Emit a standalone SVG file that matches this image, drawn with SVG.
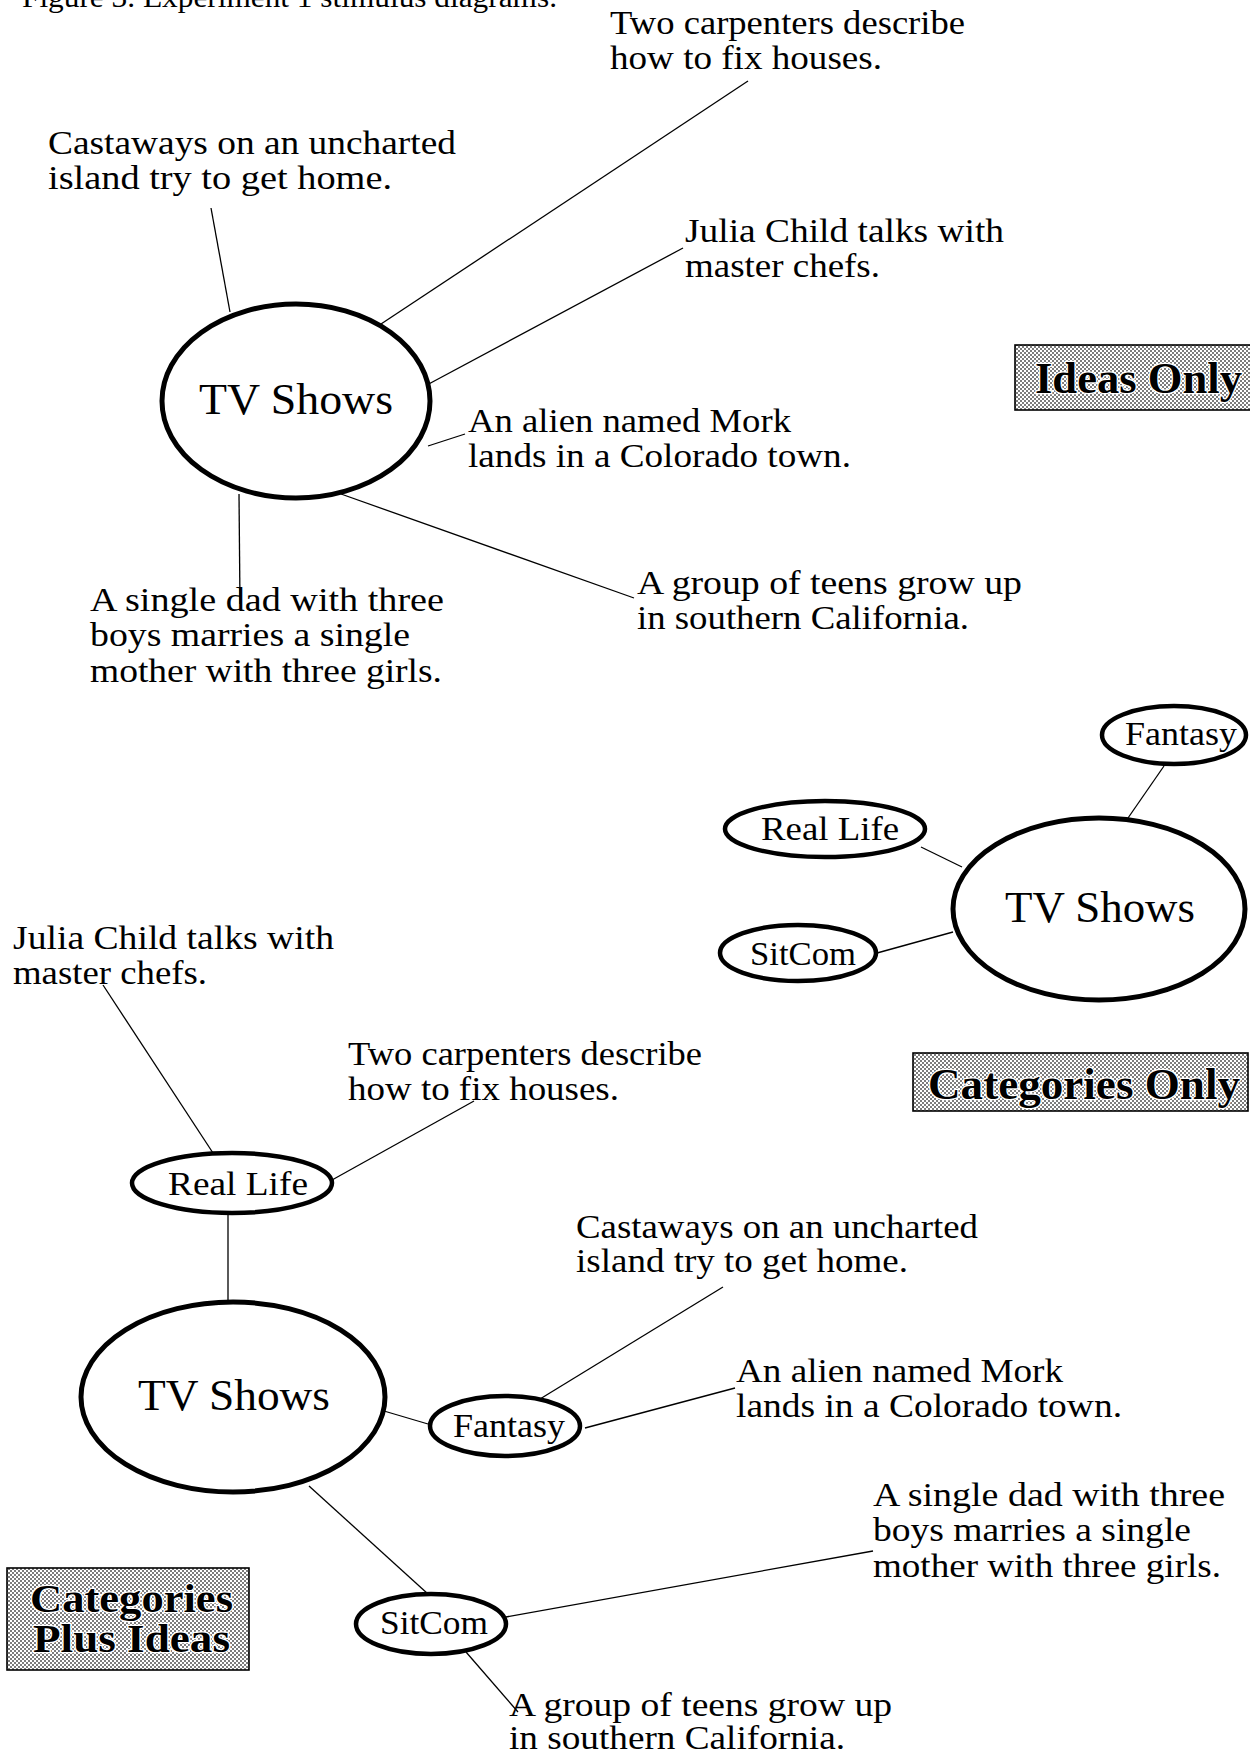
<svg xmlns="http://www.w3.org/2000/svg" width="1250" height="1755" viewBox="0 0 1250 1755">
  <style>
    text { font-family: "Liberation Serif", "Times New Roman", serif; fill: #000; }
    .t { font-size: 33px; }
    .hub { font-size: 44px; }
    .cat { font-size: 34px; }
    .tag { font-size: 44px; font-weight: bold; stroke: #fff; stroke-width: 2.5px; paint-order: stroke; }
    .tag2 { font-size: 39px; }
    .big { fill: #fff; stroke: #000; stroke-width: 5; }
    .small { fill: #fff; stroke: #000; stroke-width: 4.5; }
    .box { fill: url(#halftone); stroke: #000; stroke-width: 1.6; }
    #connectors line { stroke: #000; stroke-width: 1.3; }
  </style>
  <defs>
    <pattern id="halftone" width="4" height="4" patternUnits="userSpaceOnUse">
      <rect width="4" height="4" fill="#fff"/>
      <rect x="0.2" y="0.2" width="1.6" height="1.6" fill="#333"/>
      <rect x="2.2" y="2.2" width="1.6" height="1.6" fill="#333"/>
    </pattern>
  </defs>
  <rect width="1250" height="1755" fill="#fff"/>

  <text id="caption" x="22" y="7" font-size="30" textLength="535" lengthAdjust="spacingAndGlyphs">Figure 3. Experiment 1 stimulus diagrams.</text>

  <!-- connector lines -->
  <g id="connectors">
    <!-- ideas only -->
    <line x1="211" y1="208" x2="230" y2="312"/>
    <line x1="748" y1="81" x2="381" y2="324"/>
    <line x1="683" y1="248" x2="425" y2="386"/>
    <line x1="465" y1="434" x2="428" y2="446"/>
    <line x1="341" y1="494" x2="634" y2="598"/>
    <line x1="239" y1="494" x2="240" y2="604"/>
    <!-- categories only -->
    <line x1="1164" y1="766" x2="1128" y2="818"/>
    <line x1="921" y1="847" x2="962" y2="867"/>
    <line x1="877" y1="953" x2="953" y2="932"/>
    <!-- categories plus ideas -->
    <line x1="103" y1="985" x2="213" y2="1153"/>
    <line x1="474" y1="1101" x2="332" y2="1180"/>
    <line x1="228" y1="1213" x2="228" y2="1301"/>
    <line x1="384" y1="1411" x2="428" y2="1424"/>
    <line x1="723" y1="1287" x2="540" y2="1399"/>
    <line x1="735" y1="1388" x2="585" y2="1428"/>
    <line x1="309" y1="1486" x2="428" y2="1594"/>
    <line x1="873" y1="1551" x2="506" y2="1617"/>
    <line x1="466" y1="1652" x2="518" y2="1712"/>
  </g>

  <!-- Ideas Only -->
  <g id="ideas-hub">
    <ellipse class="big" cx="296" cy="401" rx="134" ry="97"/>
    <text class="hub" x="199" y="414" textLength="194" lengthAdjust="spacingAndGlyphs">TV Shows</text>
  </g>
  <g id="ideas-carpenters" class="t">
    <text x="610" y="34" textLength="355" lengthAdjust="spacingAndGlyphs">Two carpenters describe</text>
    <text x="610" y="69" textLength="272" lengthAdjust="spacingAndGlyphs">how to fix houses.</text>
  </g>
  <g id="ideas-castaways" class="t">
    <text x="48" y="154" textLength="408" lengthAdjust="spacingAndGlyphs">Castaways on an uncharted</text>
    <text x="48" y="189" textLength="344" lengthAdjust="spacingAndGlyphs">island try to get home.</text>
  </g>
  <g id="ideas-julia" class="t">
    <text x="685" y="242" textLength="319" lengthAdjust="spacingAndGlyphs">Julia Child talks with</text>
    <text x="685" y="277" textLength="195" lengthAdjust="spacingAndGlyphs">master chefs.</text>
  </g>
  <g id="ideas-alien" class="t">
    <text x="468" y="432" textLength="323" lengthAdjust="spacingAndGlyphs">An alien named Mork</text>
    <text x="468" y="467" textLength="383" lengthAdjust="spacingAndGlyphs">lands in a Colorado town.</text>
  </g>
  <g id="ideas-teens" class="t">
    <text x="637" y="594" textLength="385" lengthAdjust="spacingAndGlyphs">A group of teens grow up</text>
    <text x="637" y="629" textLength="332" lengthAdjust="spacingAndGlyphs">in southern California.</text>
  </g>
  <g id="ideas-dad" class="t">
    <text x="90" y="611" textLength="354" lengthAdjust="spacingAndGlyphs">A single dad with three</text>
    <text x="90" y="646" textLength="320" lengthAdjust="spacingAndGlyphs">boys marries a single</text>
    <text x="90" y="682" textLength="352" lengthAdjust="spacingAndGlyphs">mother with three girls.</text>
  </g>
  <g id="tag-ideas">
    <rect class="box" x="1015" y="345" width="240" height="65"/>
    <text class="tag" x="1035" y="393" textLength="207" lengthAdjust="spacingAndGlyphs">Ideas Only</text>
  </g>

  <!-- Categories Only -->
  <g id="cats-hub">
    <ellipse class="big" cx="1099" cy="909" rx="146" ry="91"/>
    <text class="hub" x="1005" y="922" textLength="190" lengthAdjust="spacingAndGlyphs">TV Shows</text>
  </g>
  <g id="cats-fantasy">
    <ellipse class="small" cx="1174" cy="735" rx="72" ry="29"/>
    <text class="cat" x="1125" y="745" textLength="112" lengthAdjust="spacingAndGlyphs">Fantasy</text>
  </g>
  <g id="cats-reallife">
    <ellipse class="small" cx="825" cy="829" rx="100" ry="28"/>
    <text class="cat" x="761" y="840" textLength="138" lengthAdjust="spacingAndGlyphs">Real Life</text>
  </g>
  <g id="cats-sitcom">
    <ellipse class="small" cx="798" cy="953" rx="78" ry="28"/>
    <text class="cat" x="750" y="965" textLength="106" lengthAdjust="spacingAndGlyphs">SitCom</text>
  </g>
  <g id="tag-cats">
    <rect class="box" x="913" y="1053" width="335" height="58"/>
    <text class="tag" x="928" y="1099" textLength="312" lengthAdjust="spacingAndGlyphs">Categories Only</text>
  </g>

  <!-- Categories Plus Ideas -->
  <g id="plus-hub">
    <ellipse class="big" cx="233" cy="1397" rx="152" ry="95"/>
    <text class="hub" x="138" y="1410" textLength="192" lengthAdjust="spacingAndGlyphs">TV Shows</text>
  </g>
  <g id="plus-reallife">
    <ellipse class="small" cx="232" cy="1183" rx="100" ry="30"/>
    <text class="cat" x="168" y="1195" textLength="140" lengthAdjust="spacingAndGlyphs">Real Life</text>
  </g>
  <g id="plus-fantasy">
    <ellipse class="small" cx="505" cy="1426" rx="75" ry="30"/>
    <text class="cat" x="453" y="1437" textLength="112" lengthAdjust="spacingAndGlyphs">Fantasy</text>
  </g>
  <g id="plus-sitcom">
    <ellipse class="small" cx="431" cy="1624" rx="75" ry="30"/>
    <text class="cat" x="380" y="1634" textLength="108" lengthAdjust="spacingAndGlyphs">SitCom</text>
  </g>
  <g id="plus-julia" class="t">
    <text x="13" y="949" textLength="321" lengthAdjust="spacingAndGlyphs">Julia Child talks with</text>
    <text x="13" y="984" textLength="194" lengthAdjust="spacingAndGlyphs">master chefs.</text>
  </g>
  <g id="plus-carpenters" class="t">
    <text x="348" y="1065" textLength="354" lengthAdjust="spacingAndGlyphs">Two carpenters describe</text>
    <text x="348" y="1100" textLength="271" lengthAdjust="spacingAndGlyphs">how to fix houses.</text>
  </g>
  <g id="plus-castaways" class="t">
    <text x="576" y="1238" textLength="402" lengthAdjust="spacingAndGlyphs">Castaways on an uncharted</text>
    <text x="576" y="1272" textLength="332" lengthAdjust="spacingAndGlyphs">island try to get home.</text>
  </g>
  <g id="plus-alien" class="t">
    <text x="736" y="1382" textLength="327" lengthAdjust="spacingAndGlyphs">An alien named Mork</text>
    <text x="736" y="1417" textLength="386" lengthAdjust="spacingAndGlyphs">lands in a Colorado town.</text>
  </g>
  <g id="plus-dad" class="t">
    <text x="873" y="1506" textLength="352" lengthAdjust="spacingAndGlyphs">A single dad with three</text>
    <text x="873" y="1541" textLength="318" lengthAdjust="spacingAndGlyphs">boys marries a single</text>
    <text x="873" y="1577" textLength="348" lengthAdjust="spacingAndGlyphs">mother with three girls.</text>
  </g>
  <g id="plus-teens" class="t">
    <text x="509" y="1716" textLength="383" lengthAdjust="spacingAndGlyphs">A group of teens grow up</text>
    <text x="509" y="1749" textLength="336" lengthAdjust="spacingAndGlyphs">in southern California.</text>
  </g>
  <g id="tag-plus">
    <rect class="box" x="7" y="1568" width="242" height="102"/>
    <text class="tag tag2" x="30" y="1612" textLength="203" lengthAdjust="spacingAndGlyphs">Categories</text>
    <text class="tag tag2" x="33" y="1652" textLength="197" lengthAdjust="spacingAndGlyphs">Plus Ideas</text>
  </g>
</svg>
